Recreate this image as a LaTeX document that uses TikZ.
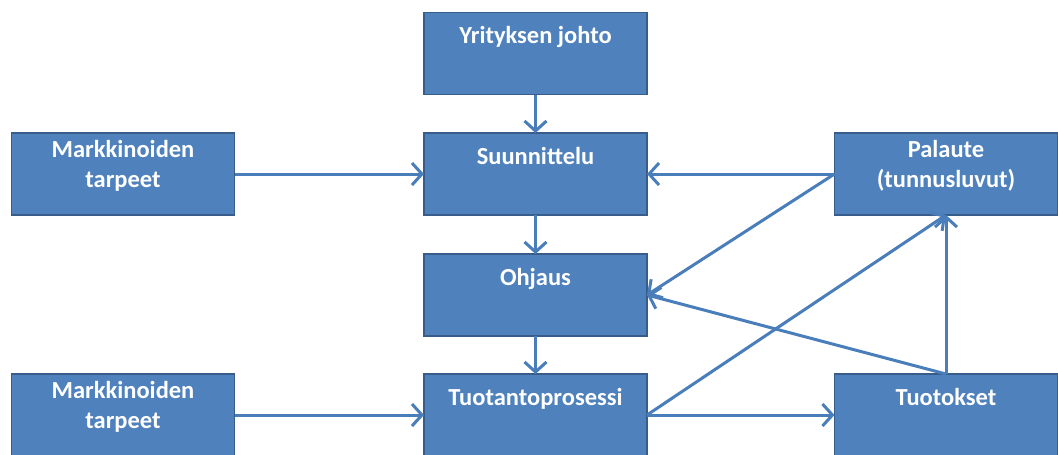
\documentclass[tikz,border=0pt]{standalone}
\usepackage{fontspec}
\setmainfont{Carlito}
\usetikzlibrary{arrows.meta,calc}
\definecolor{boxfill}{RGB}{79,129,189}
\definecolor{boxline}{RGB}{56,93,138}
\definecolor{arrowcol}{RGB}{74,126,187}
\begin{document}
\begin{tikzpicture}[x=1pt,y=-1pt,
  box/.style={draw=boxline, fill=boxfill, line width=1.5pt,
    minimum width=223pt, minimum height=82pt, inner sep=0pt, outer sep=0pt},
  boxtext/.style={text=white, font=\fontsize{24.5}{30}\selectfont\bfseries,
    align=center, inner sep=0pt, anchor=base},
  flow/.style={draw=arrowcol, line width=3pt,
    -{Straight Barb[length=10pt,width=22pt,line width=3pt]}}]
\useasboundingbox (0,0) rectangle (1058,455);

% boxes
\node[box] (yj) at (535.5,53.5) {};
\node[box] (m1) at (123,174) {};
\node[box] (su) at (535.5,174) {};
\node[box] (pa) at (946,174) {};
\node[box] (oh) at (535.5,295) {};
\node[box] (m2) at (123,415) {};
\node[box] (tp) at (535.5,415) {};
\node[box] (tu) at (946,415) {};

% box captions (base anchor sits on the last line)
\node[boxtext] (yjt) at ($(yj.north)+(0,31)$) {Yrityksen johto};
\node[boxtext] (m1t) at ($(m1.north)+(0,54)$) {Markkinoiden\\tarpeet};
\node[boxtext] (sut) at ($(su.north)+(0,31)$) {Suunnittelu};
\node[boxtext] (pat) at ($(pa.north)+(0,54)$) {Palaute\\(tunnusluvut)};
\node[boxtext] (oht) at ($(oh.north)+(0,31)$) {Ohjaus};
\node[boxtext] (m2t) at ($(m2.north)+(0,54)$) {Markkinoiden\\tarpeet};
\node[boxtext] (tpt) at ($(tp.north)+(0,31)$) {Tuotantoprosessi};
\node[boxtext] (tut) at ($(tu.north)+(0,31)$) {Tuotokset};

% connectors
\draw[flow] (yj.south) -- (su.north);
\draw[flow] (su.south) -- (oh.north);
\draw[flow] (oh.south) -- (tp.north);
\draw[flow] (m1.east) -- (su.west);
\draw[flow] (m2.east) -- (tp.west);
\draw[flow] (pa.west) -- (su.east);
\draw[flow] (pa.west) -- (oh.east);
\draw[flow] (tu.north) -- (oh.east);
\draw[flow] (tu.north) -- (pa.south);
\draw[flow] (tp.east) -- (pa.south);
\draw[flow] (tp.east) -- (tu.west);
\end{tikzpicture}
\end{document}
